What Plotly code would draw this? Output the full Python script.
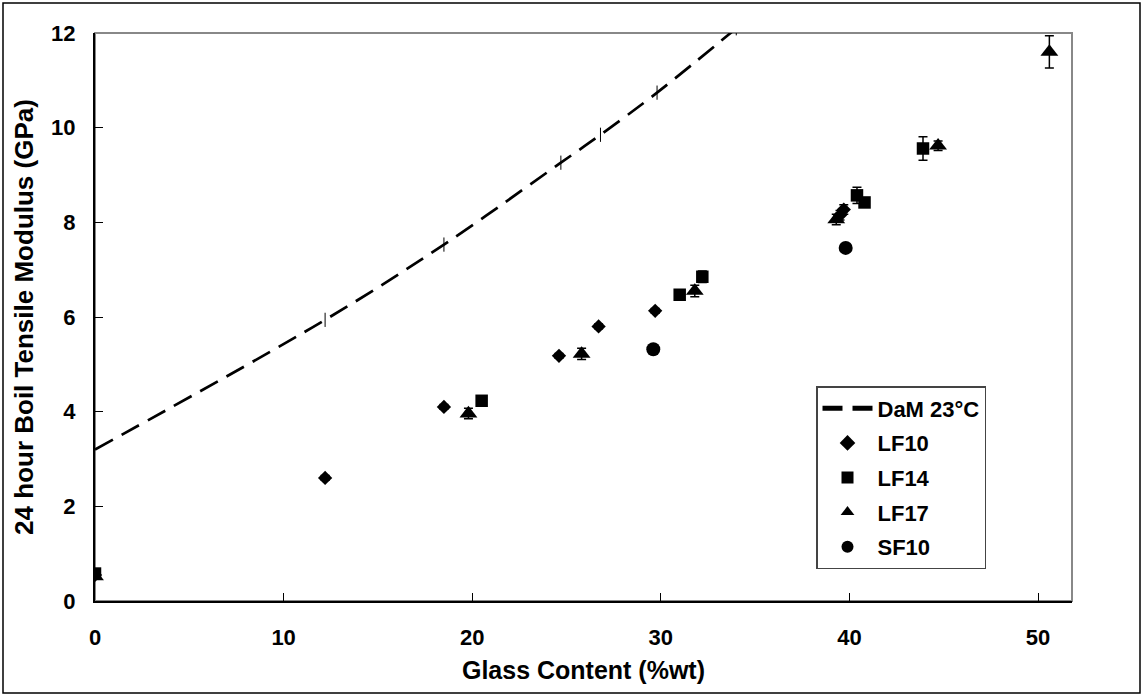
import plotly.graph_objects as go

# DaM 23°C model curve
dam_x = [0, 12.2, 18.5, 24.7, 26.8, 29.8, 34.0]
dam_y = [3.2, 5.94, 7.53, 9.26, 9.85, 10.74, 12.1]
dam_err = [0, 0.15, 0.15, 0.15, 0.15, 0.15, 0.15]

lf10_x = [0, 12.2, 18.5, 24.6, 26.7, 29.7, 39.5, 39.7]
lf10_y = [0.55, 2.6, 4.1, 5.18, 5.8, 6.13, 8.15, 8.27]
lf10_err = [0.05, 0.05, 0.05, 0.05, 0.05, 0.05, 0.1, 0.1]

lf14_x = [0, 20.5, 31.0, 32.2, 40.4, 40.8, 43.9]
lf14_y = [0.58, 4.23, 6.47, 6.85, 8.57, 8.42, 9.56]
lf14_err = [0.05, 0.05, 0.05, 0.12, 0.17, 0.08, 0.25]

lf17_x = [0, 19.8, 25.8, 31.8, 39.3, 44.7, 50.6]
lf17_y = [0.52, 3.96, 5.22, 6.55, 8.06, 9.62, 11.6]
lf17_err = [0.05, 0.11, 0.12, 0.12, 0.11, 0.1, 0.34]

sf10_x = [29.6, 39.8]
sf10_y = [5.32, 7.46]
sf10_err = [0.05, 0.05]

x_ticks = [0, 10, 20, 30, 40, 50]
y_ticks = [0, 2, 4, 6, 8, 10, 12]

FONT = "Liberation Sans, Arial, sans-serif"


def eb(vals):
    return dict(type="data", array=vals, visible=True, color="black", thickness=1.5, width=4.5)


fig = go.Figure()
fig.add_trace(go.Scatter(x=dam_x, y=dam_y, mode="lines", name="DaM 23°C", legendgroup="a",
                         line=dict(color="black", width=2.7, dash="20px,10px", shape="spline"),
                         error_y=dict(type="data", array=dam_err, visible=True, color="black",
                                      thickness=1, width=0)))
fig.add_trace(go.Scatter(x=lf10_x, y=lf10_y, mode="markers", name="LF10", legendgroup="b",
                         marker=dict(symbol="diamond", size=11, color="black"),
                         error_y=eb(lf10_err)))
fig.add_trace(go.Scatter(x=lf14_x, y=lf14_y, mode="markers", name="LF14", legendgroup="c",
                         marker=dict(symbol="square", size=12.5, color="black"),
                         error_y=eb(lf14_err)))
fig.add_trace(go.Scatter(x=lf17_x, y=lf17_y, mode="markers", name="LF17", legendgroup="d",
                         marker=dict(symbol="triangle-up", size=15.5, color="black"),
                         error_y=eb(lf17_err)))
fig.add_trace(go.Scatter(x=sf10_x, y=sf10_y, mode="markers", name="SF10", legendgroup="e",
                         marker=dict(symbol="circle", size=14, color="black"),
                         error_y=eb(sf10_err)))

L, R, T, B = 95, 71, 33, 95
W, H = 1143, 696
pw, ph = W - L - R, H - T - B

fig.update_layout(
    width=W, height=H,
    margin=dict(l=L, r=R, t=T, b=B, pad=0),
    paper_bgcolor="white", plot_bgcolor="white",
    font=dict(family=FONT, size=22, color="black"),
    showlegend=True,
    legend=dict(x=(816 - L) / pw, y=(H - B - 386) / ph, xanchor="left", yanchor="top",
                bgcolor="white", bordercolor="#444", borderwidth=1.5,
                font=dict(family=FONT, size=22, color="black", weight="bold"),
                tracegroupgap=3, itemsizing="constant", itemwidth=50),
    xaxis=dict(range=[0, 51.8], tickvals=x_ticks, ticks="inside", ticklen=8, tickwidth=1,
               tickcolor="black", showline=True, linecolor="black", linewidth=2,
               showgrid=False, zeroline=False, ticklabelstandoff=16,
               tickfont=dict(family=FONT, size=22, weight="bold"),
               title=dict(text="<b>Glass Content (%wt)</b>", font=dict(family=FONT, size=25), standoff=12)),
    yaxis=dict(range=[0, 12], tickvals=y_ticks, ticks="inside", ticklen=8, tickwidth=1,
               tickcolor="black", showline=True, linecolor="black", linewidth=2,
               showgrid=False, zeroline=False, ticklabelstandoff=13,
               tickfont=dict(family=FONT, size=22, weight="bold"),
               title=dict(text="<b>24 hour Boil Tensile Modulus (GPa)</b>", font=dict(family=FONT, size=26), standoff=10)),
    shapes=[
        dict(type="rect", xref="paper", yref="paper", x0=0, x1=1, y0=0, y1=1,
             line=dict(color="#888", width=2), layer="below"),
        dict(type="rect", xref="paper", yref="paper",
             x0=(3 - L) / pw, x1=(1140 - L) / pw,
             y0=(H - 693 - B) / ph, y1=(H - 3 - B) / ph,
             line=dict(color="black", width=1.5), layer="below"),
    ],
)

fig.write_html("out.html")
